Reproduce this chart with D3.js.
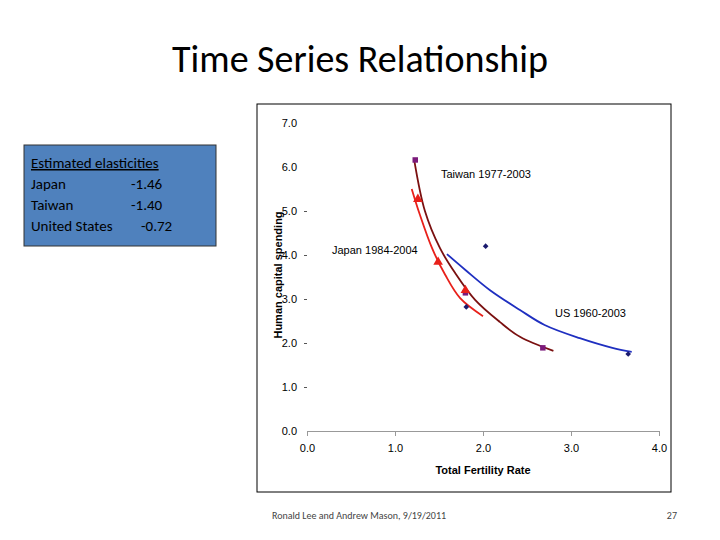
<!DOCTYPE html>
<html><head><meta charset="utf-8">
<script src="https://cdn.jsdelivr.net/npm/d3@7"></script>
<style>body{margin:0;background:#fff}svg{display:block}</style>
</head><body>
<svg id="c" width="720" height="540"></svg>
<script>
// data
var taiwanPts = [[1.23, 6.16], [1.80, 3.14], [2.68, 1.89]];
var japanPts = [[1.26, 5.27], [1.49, 3.84], [1.80, 3.20]];
var usPts = [[2.03, 4.20], [1.81, 2.82], [3.65, 1.75]];
var taiwanFit = [[1.22, 6.14], [1.34, 5.0], [1.51, 4.16], [1.68, 3.6], [1.91, 2.98], [2.19, 2.48], [2.42, 2.14], [2.80, 1.82]];
var japanFit = [[1.19, 5.5], [1.28, 4.93], [1.42, 4.16], [1.57, 3.55], [1.74, 3.02], [2.0, 2.61]];
var usFit = [[1.59, 4.02], [1.80, 3.66], [2.08, 3.2], [2.42, 2.75], [2.70, 2.41], [3.10, 2.11], [3.47, 1.89], [3.69, 1.80]];
var xTicks = [0, 1, 2, 3, 4];
var yTicks = [0, 1, 2, 3, 4, 5, 6, 7];
var elasticities = [["Japan", "-1.46"], ["Taiwan", "-1.40"], ["United States", "-0.72"]];

var svg = d3.select('#c');
var font = 'Liberation Sans, Arial, sans-serif';

svg.append('text').attr('x', 360).attr('y', 72).attr('text-anchor', 'middle')
   .attr('font-family', 'Carlito, Open Sans, sans-serif').attr('font-size', 38).text('Time Series Relationship');

// elasticity box
svg.append('rect').attr('x', 24).attr('y', 145).attr('width', 192).attr('height', 101)
   .attr('fill', '#4f81bd').attr('stroke', '#333');
var box = svg.append('g').attr('font-family', 'Carlito, Open Sans, sans-serif').attr('font-size', 15);
box.append('text').attr('x', 31).attr('y', 168).attr('text-decoration', 'underline').text('Estimated elasticities');
elasticities.forEach(function(e, i)
{
  var y = 189 + i * 21;
  box.append('text').attr('x', 31).attr('y', y).text(e[0]);
  box.append('text').attr('x', e[0] == 'United States' ? 141 : 131).attr('y', y).text(e[1]);
});

// chart frame
svg.append('rect').attr('x', 257).attr('y', 104).attr('width', 414).attr('height', 388)
   .attr('fill', '#fff').attr('stroke', '#000');

var x = d3.scaleLinear().domain([0, 4]).range([307, 659]);
var y = d3.scaleLinear().domain([0, 7]).range([431, 123]);

var xa = svg.append('g').attr('transform', 'translate(0,431)')
  .call(d3.axisBottom(x).tickValues(xTicks).tickSize(5).tickPadding(8));
xa.select('.domain').attr('stroke', '#999');
xa.selectAll('line').attr('stroke', '#999');
xa.selectAll('text').attr('font-family', font).attr('font-size', 11);

var ya = svg.append('g').attr('transform', 'translate(306,0)')
  .call(d3.axisLeft(y).tickValues(yTicks).tickSize(0).tickPadding(9));
ya.select('.domain').remove();
ya.selectAll('text').attr('font-family', font).attr('font-size', 11);
ya.selectAll('.tick').filter(function(d){ return d >= 1 && d <= 5; })
  .append('line').attr('x1', -2).attr('x2', 1).attr('stroke', '#555');

svg.append('text').attr('x', 483).attr('y', 474).attr('text-anchor', 'middle')
   .attr('font-family', font).attr('font-size', 11).attr('font-weight', 'bold').text('Total Fertility Rate');
svg.append('text').attr('transform', 'translate(282,275) rotate(-90)').attr('text-anchor', 'middle')
   .attr('font-family', font).attr('font-size', 11).attr('font-weight', 'bold').text('Human capital spending');

var line = d3.line().x(function(d){ return x(d[0]); }).y(function(d){ return y(d[1]); }).curve(d3.curveCatmullRom);
[[usFit, '#1f2fc0'], [taiwanFit, '#7a1010'], [japanFit, '#e8201a']].forEach(function(s)
{
  svg.append('path').datum(s[0]).attr('d', line).attr('fill', 'none').attr('stroke', s[1]).attr('stroke-width', 1.8);
});

svg.selectAll('.tw').data(taiwanPts).enter().append('path')
   .attr('transform', function(d){ return 'translate(' + x(d[0]) + ',' + y(d[1]) + ')'; })
   .attr('d', d3.symbol(d3.symbolSquare, 30)).attr('fill', '#7b1a7b');
svg.selectAll('.jp').data(japanPts).enter().append('path')
   .attr('transform', function(d){ return 'translate(' + x(d[0]) + ',' + y(d[1]) + ')'; })
   .attr('d', d3.symbol(d3.symbolTriangle, 40)).attr('fill', '#e8201a');
svg.selectAll('.us').data(usPts).enter().append('path')
   .attr('transform', function(d){ return 'translate(' + x(d[0]) + ',' + y(d[1]) + ') rotate(45)'; })
   .attr('d', d3.symbol(d3.symbolSquare, 16)).attr('fill', '#1a1a6e');

var lbl = svg.append('g').attr('font-family', font).attr('font-size', 11);
lbl.append('text').attr('x', 441).attr('y', 178).text('Taiwan 1977-2003');
lbl.append('text').attr('x', 332).attr('y', 254).text('Japan 1984-2004');
lbl.append('text').attr('x', 555).attr('y', 317).text('US 1960-2003');

svg.append('text').attr('x', 359).attr('y', 519).attr('text-anchor', 'middle')
   .attr('font-family', 'Carlito, Open Sans, sans-serif').attr('font-size', 10).attr('fill', '#444')
   .text('Ronald Lee and Andrew Mason, 9/19/2011');
svg.append('text').attr('x', 677).attr('y', 519).attr('text-anchor', 'end')
   .attr('font-family', 'Carlito, Open Sans, sans-serif').attr('font-size', 10).attr('fill', '#444').text('27');
</script>
</body></html>
